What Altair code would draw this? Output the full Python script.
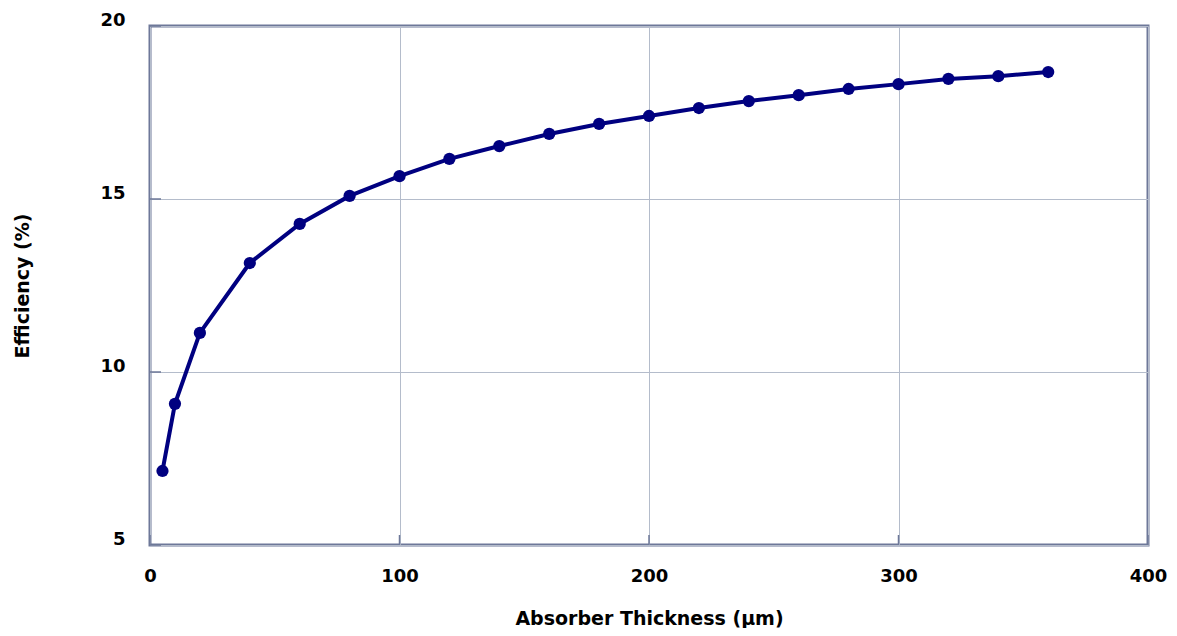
import altair as alt
import pandas as pd

thickness = [5, 10, 20, 40, 60, 80, 100, 120, 140, 160, 180, 200, 220, 240, 260, 280, 300, 320, 340, 360]
efficiency = [7.14, 9.08, 11.13, 13.15, 14.28, 15.09, 15.66, 16.16, 16.53, 16.88, 17.17, 17.40, 17.63, 17.83, 18.00, 18.18, 18.32, 18.47, 18.55, 18.67]

x_ticks = [0, 100, 200, 300, 400]
y_ticks = [5, 10, 15, 20]

df = pd.DataFrame({"x": thickness, "y": efficiency})
xt = pd.DataFrame({"x": x_ticks})
yt = pd.DataFrame({"y": y_ticks})

FONT = "DejaVu Sans"
NAVY = "#000080"
FRAME = "#6e7899"

xscale = alt.Scale(domain=[0, 400], nice=False, zero=False)
yscale = alt.Scale(domain=[5, 20], nice=False, zero=False)

x_axis = alt.Axis(values=x_ticks, title="Absorber Thickness (µm)", grid=True, gridColor="#b4bccb",
                  gridWidth=1, ticks=False, domain=False, labelFont=FONT, labelFontSize=18,
                  labelFontWeight="bold", labelColor="black", labelPadding=22, labelFlush=False,
                  titleFont=FONT, titleFontSize=19, titleFontWeight="bold", titleColor="black",
                  titlePadding=24)
y_axis = alt.Axis(values=y_ticks, title="Efficiency (%)", grid=True, gridColor="#b4bccb",
                  gridWidth=1, ticks=False, domain=False, labelFont=FONT, labelFontSize=18,
                  labelFontWeight="bold", labelColor="black", labelPadding=25, labelFlush=False,
                  labelBaseline="alphabetic", labelOffset=-1,
                  titleFont=FONT, titleFontSize=19, titleFontWeight="bold", titleColor="black",
                  titlePadding=67)

line = alt.Chart(df).mark_line(color=NAVY, strokeWidth=4).encode(
    x=alt.X("x:Q", scale=xscale, axis=x_axis),
    y=alt.Y("y:Q", scale=yscale, axis=y_axis),
)
pts = alt.Chart(df).mark_circle(color=NAVY, size=150, opacity=1).encode(
    x=alt.X("x:Q", scale=xscale),
    y=alt.Y("y:Q", scale=yscale),
)

xtick_marks = alt.Chart(xt).mark_rule(color=FRAME, strokeWidth=1.5).encode(
    x=alt.X("x:Q", scale=xscale),
    y=alt.value(519), y2=alt.value(509),
)
ytick_marks = alt.Chart(yt).mark_rule(color=FRAME, strokeWidth=1.5).encode(
    y=alt.Y("y:Q", scale=yscale),
    x=alt.value(0), x2=alt.value(11),
)

chart = alt.layer(xtick_marks, ytick_marks, line, pts).properties(
    width=998, height=519,
    background="white",
    autosize=alt.AutoSizeParams(type="none"),
    padding={"left": 142, "top": 18, "right": 20, "bottom": 83},
).configure_view(stroke=FRAME, strokeWidth=3)

chart.save("out.html", embed_options={"renderer": "svg", "actions": False})
